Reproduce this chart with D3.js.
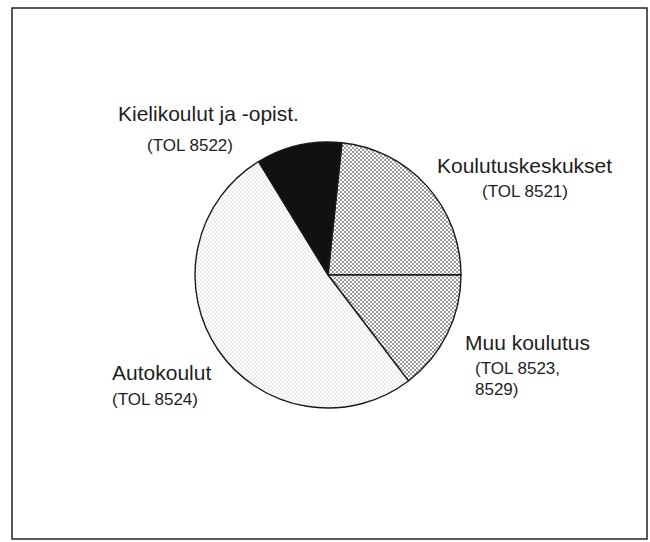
<!DOCTYPE html>
<html>
<head>
<meta charset="utf-8">
<script src="https://cdn.jsdelivr.net/npm/d3@7"></script>
<style>
  body { margin: 0; background: #fff; }
  svg text { font-family: "Liberation Sans", Arial, sans-serif; fill: #1e1e1e; }
</style>
</head>
<body>
<div id="chart"></div>
<script>
// data
const categories = ["Koulutuskeskukset", "Muu koulutus", "Autokoulut", "Kielikoulut ja -opist."];
const codeLines = [["(TOL 8521)"], ["(TOL 8523,", "8529)"], ["(TOL 8524)"], ["(TOL 8522)"]];
const shares = [23.3, 14.7, 51.6, 10.4];
const fills = ["url(#dense)", "url(#dense)", "url(#light)", "#111"];

const width = 650, height = 542;
const cx = 328, cy = 275, radius = 133;
const startDeg = 6;

// where each label block sits (title x/y, then code lines x/y)
const labelPos = [
  { x: 437, y: 173, cx: 482, cy: 197 },
  { x: 465, y: 350, cx: 475, cy: 374 },
  { x: 112, y: 380, cx: 112, cy: 405 },
  { x: 118, y: 121, cx: 147, cy: 151 }
];

const svg = d3.select("#chart").append("svg")
  .attr("width", width)
  .attr("height", height);

const defs = svg.append("defs");

function dotPattern(id, size, r, color) {
  const p = defs.append("pattern")
    .attr("id", id)
    .attr("patternUnits", "userSpaceOnUse")
    .attr("width", size)
    .attr("height", size);
  p.append("rect").attr("width", size).attr("height", size).attr("fill", "#fff");
  p.append("circle").attr("cx", size / 4).attr("cy", size / 4).attr("r", r).attr("fill", color);
  p.append("circle").attr("cx", size * 3 / 4).attr("cy", size * 3 / 4).attr("r", r).attr("fill", color);
}
dotPattern("dense", 4, 0.9, "#6a6a6a");
dotPattern("light", 4, 0.75, "#cfcfcf");

// frame
svg.append("rect")
  .attr("x", 12).attr("y", 8)
  .attr("width", 635).attr("height", 531)
  .attr("fill", "none")
  .attr("stroke", "#222")
  .attr("stroke-width", 1.5);

const pie = d3.pie()
  .sort(null)
  .value(d => d)
  .startAngle(startDeg * Math.PI / 180)
  .endAngle(startDeg * Math.PI / 180 + 2 * Math.PI);

const arc = d3.arc().innerRadius(0).outerRadius(radius);

const g = svg.append("g").attr("transform", `translate(${cx},${cy})`);

g.selectAll("path")
  .data(pie(shares))
  .enter()
  .append("path")
  .attr("d", arc)
  .attr("fill", (d, i) => fills[i])
  .attr("stroke", "#1a1a1a")
  .attr("stroke-width", 1.4)
  .attr("stroke-linejoin", "round");

// labels
categories.forEach((name, i) => {
  const p = labelPos[i];
  svg.append("text")
    .attr("x", p.x)
    .attr("y", p.y)
    .attr("font-size", 21)
    .text(name);
  codeLines[i].forEach((line, j) => {
    svg.append("text")
      .attr("x", p.cx)
      .attr("y", p.cy + j * 21)
      .attr("font-size", 17)
      .text(line);
  });
});
</script>
</body>
</html>
